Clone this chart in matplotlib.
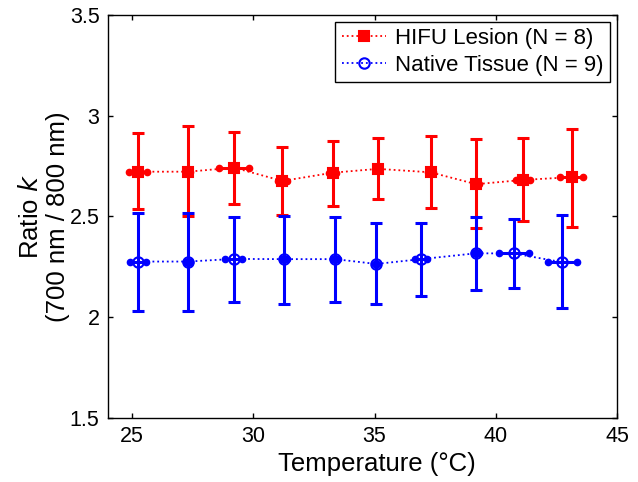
import numpy as np
import matplotlib
matplotlib.use("Agg")
from matplotlib import pyplot as plt

plt.rcParams['font.family'] = ['Liberation Sans', 'DejaVu Sans']

# HIFU lesion (red)
hifu_t = [25.25, 27.31, 29.21, 31.20, 33.28, 35.14, 37.31, 39.19, 41.12, 43.14]
hifu_terr = [0.36, 0.08, 0.63, 0.2, 0.15, 0.05, 0.1, 0.1, 0.3, 0.48]
hifu_k = [2.722, 2.722, 2.742, 2.676, 2.717, 2.736, 2.719, 2.660, 2.681, 2.695]
hifu_top = [2.913, 2.949, 2.918, 2.846, 2.876, 2.888, 2.901, 2.883, 2.888, 2.934]
hifu_bot = [2.536, 2.504, 2.561, 2.507, 2.552, 2.587, 2.541, 2.441, 2.476, 2.446]

# native tissue (blue)
nat_t = [25.25, 27.31, 29.19, 31.28, 33.38, 35.07, 36.92, 39.19, 40.74, 42.74]
nat_terr = [0.32, 0.1, 0.34, 0.1, 0.1, 0.05, 0.25, 0.1, 0.62, 0.6]
nat_k = [2.276, 2.276, 2.289, 2.288, 2.288, 2.264, 2.288, 2.317, 2.316, 2.273]
nat_top = [2.516, 2.516, 2.499, 2.504, 2.499, 2.469, 2.469, 2.499, 2.488, 2.506]
nat_bot = [2.033, 2.033, 2.076, 2.066, 2.076, 2.066, 2.107, 2.134, 2.147, 2.046]

fig = plt.figure(figsize=(6.38, 4.82), dpi=100)
ax = fig.add_axes([0.169, 0.133, 0.798, 0.836])


def draw(t, terr, k, top, bot, col, marker, mfc, ms, label):
    t = np.array(t); terr = np.array(terr); k = np.array(k)
    yerr = [k - np.array(bot), np.array(top) - k]
    ax.errorbar(t, k, yerr=yerr, fmt='none', ecolor=col, elinewidth=2.2,
                capsize=4, capthick=2.2, zorder=2)
    ax.errorbar(t, k, xerr=terr, fmt='none', ecolor=col, elinewidth=2.2,
                capsize=0, zorder=2)
    ax.plot(np.concatenate([t - terr, t + terr]), np.concatenate([k, k]),
            '.', color=col, ms=9, zorder=3)
    line, = ax.plot(t, k, ':', color=col, lw=1.3, marker=marker, ms=ms,
                    mfc=mfc, mec=col, mew=1.5, zorder=4, label=label)
    return line


draw(hifu_t, hifu_terr, hifu_k, hifu_top, hifu_bot, 'red', 's', 'red', 7,
     'HIFU Lesion (N = 8)')
draw(nat_t, nat_terr, nat_k, nat_top, nat_bot, 'blue', 'o', 'none', 7.5,
     'Native Tissue (N = 9)')

ax.set_xlim(24, 45)
ax.set_ylim(1.5, 3.5)
ax.set_xticks([25, 30, 35, 40, 45])
ax.set_yticks([1.5, 2, 2.5, 3, 3.5])
ax.set_yticklabels(['1.5', '2', '2.5', '3', '3.5'])
ax.tick_params(direction='in', top=True, right=True, labelsize=15.5, length=3.5,
               width=1, pad=6)
for s in ax.spines.values():
    s.set_linewidth(1)

ax.set_xlabel('Temperature (°C)', fontsize=18.5)
ax.xaxis.set_label_coords(0.528, -0.085)
ax.set_ylabel('Ratio $\\mathit{k}$\n(700 nm / 800 nm)', fontsize=18.5, labelpad=0,
              linespacing=1.15)

leg = ax.legend(loc='upper right', fontsize=16, fancybox=False, edgecolor='black',
                framealpha=1, borderaxespad=0.3, handlelength=2.0,
                handletextpad=0.4, borderpad=0.3, labelspacing=0.25)
leg.get_frame().set_linewidth(1)

fig.savefig('out.png', dpi=100)
